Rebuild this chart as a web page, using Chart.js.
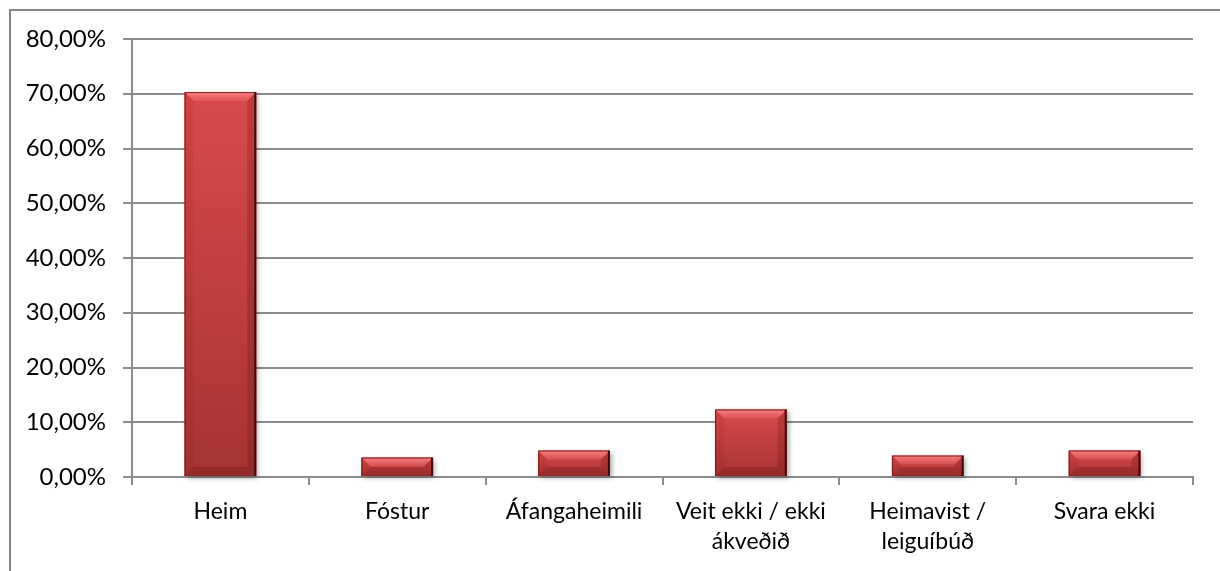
<!DOCTYPE html>
<html>
<head>
<meta charset="utf-8">
<script src="https://cdn.jsdelivr.net/npm/chart.js@4.4.1/dist/chart.umd.min.js"></script>
<style>
  html, body { margin: 0; padding: 0; background: #fff; }
  #wrap { width: 1220px; height: 571px; }
</style>
</head>
<body>
<div id="wrap"><canvas id="chart" width="1220" height="571"></canvas></div>
<script>
// Hvert fara nemendur eftir útskrift (hlutfall svara)
const categories = [
  'Heim',
  'Fóstur',
  'Áfangaheimili',
  ['Veit ekki / ekki', 'ákveðið'],
  ['Heimavist /', 'leiguíbúð'],
  'Svara ekki'
];
const shares = [70.3, 3.55, 4.83, 12.33, 3.91, 4.83];
const yTicks = [0, 10, 20, 30, 40, 50, 60, 70, 80];

const GRID = '#8c8c8c';
const FONT = "Lato, 'Noto Sans', sans-serif";

// ramminn utan um allt grafið (nær út fyrir hægri og neðri brún)
const frame = {
  id: 'frame',
  beforeDraw(chart) {
    const ctx = chart.ctx;
    ctx.save();
    ctx.fillStyle = '#fff';
    ctx.fillRect(0, 0, chart.width, chart.height);
    ctx.strokeStyle = '#868686';
    ctx.lineWidth = 2;
    ctx.strokeRect(10, 10, chart.width + 20, chart.height + 20);
    ctx.restore();
  }
};

// skuggi og skásniðnar brúnir á súlunum
const bevel = {
  id: 'bevel',
  beforeDatasetsDraw(chart) {
    const ctx = chart.ctx;
    ctx.save();
    chart.getDatasetMeta(0).data.forEach(bar => {
      const l = bar.x - bar.width / 2;
      ctx.shadowColor = 'rgba(0,0,0,0.35)';
      ctx.shadowBlur = 5;
      ctx.shadowOffsetX = 2;
      ctx.shadowOffsetY = 2;
      ctx.fillStyle = '#a83434';
      ctx.fillRect(l, bar.y, bar.width, bar.base - bar.y);
    });
    ctx.restore();
  },
  afterDatasetsDraw(chart) {
    const ctx = chart.ctx;
    ctx.save();
    chart.getDatasetMeta(0).data.forEach(bar => {
      const l = bar.x - bar.width / 2;
      const r = bar.x + bar.width / 2;
      const t = bar.y;
      const b = bar.base;
      const s = Math.min(9, (b - t) / 2);

      const poly = (pts, fill) => {
        ctx.beginPath();
        ctx.moveTo(pts[0][0], pts[0][1]);
        pts.slice(1).forEach(p => ctx.lineTo(p[0], p[1]));
        ctx.closePath();
        ctx.fillStyle = fill;
        ctx.fill();
      };

      // efri brún, ljós
      const tg = ctx.createLinearGradient(0, t, 0, t + s);
      tg.addColorStop(0, 'rgba(255,150,150,0.75)');
      tg.addColorStop(1, 'rgba(255,120,120,0.25)');
      poly([[l, t], [r, t], [r - s, t + s], [l + s, t + s]], tg);
      // vinstri hlið
      poly([[l, t], [l + s, t + s], [l + s, b - s], [l, b]], 'rgba(120,20,20,0.10)');
      // hægri hlið, dekkri
      poly([[r, t], [r - s, t + s], [r - s, b - s], [r, b]], 'rgba(90,10,10,0.22)');
      // neðri brún
      poly([[l, b], [l + s, b - s], [r - s, b - s], [r, b]], 'rgba(90,10,10,0.25)');

      // útlínur
      ctx.strokeStyle = 'rgba(110,20,20,0.85)';
      ctx.lineWidth = 1;
      ctx.beginPath();
      ctx.moveTo(l + 0.5, b);
      ctx.lineTo(l + 0.5, t + 0.5);
      ctx.lineTo(r - 1, t + 0.5);
      ctx.stroke();
      ctx.strokeStyle = 'rgba(60,8,8,0.95)';
      ctx.lineWidth = 2;
      ctx.beginPath();
      ctx.moveTo(r - 1, t);
      ctx.lineTo(r - 1, b);
      ctx.stroke();
    });
    ctx.restore();
  }
};

new Chart(document.getElementById('chart'), {
  type: 'bar',
  data: {
    labels: categories,
    datasets: [{
      data: shares,
      barPercentage: 0.405,
      categoryPercentage: 1,
      borderWidth: 0,
      backgroundColor(c) {
        const chart = c.chart;
        if (!chart.chartArea || c.raw == null) return '#c84040';
        const y = chart.scales.y;
        const top = y.getPixelForValue(c.raw);
        const bottom = y.getPixelForValue(0);
        const g = chart.ctx.createLinearGradient(0, top, 0, bottom);
        g.addColorStop(0, '#da4a4a');
        g.addColorStop(1, '#a63333');
        return g;
      }
    }]
  },
  options: {
    responsive: false,
    animation: false,
    layout: { padding: { left: 0, right: 27, top: 39, bottom: 0 } },
    plugins: {
      legend: { display: false },
      tooltip: { enabled: false }
    },
    scales: {
      x: {
        grid: {
          offset: true,
          drawOnChartArea: false,
          drawTicks: true,
          tickLength: 8,
          color: GRID,
          lineWidth: 2
        },
        border: { display: true, color: GRID, width: 2 },
        ticks: {
          color: '#000',
          padding: 12,
          maxRotation: 0,
          autoSkip: false,
          font: { family: FONT, size: 23, lineHeight: 1.3 }
        },
        afterFit(scale) { scale.height = 94; }
      },
      y: {
        min: 0,
        max: 80,
        afterBuildTicks(scale) { scale.ticks = yTicks.map(v => ({ value: v })); },
        grid: {
          color: GRID,
          lineWidth: 2,
          drawTicks: true,
          tickLength: 9
        },
        border: { display: true, color: GRID, width: 2 },
        ticks: {
          color: '#000',
          padding: 17,
          font: { family: FONT, size: 24 },
          callback: v => v.toFixed(2).replace('.', ',') + '%'
        },
        afterFit(scale) { scale.width = 132; }
      }
    }
  },
  plugins: [frame, bevel]
});
</script>
</body>
</html>
